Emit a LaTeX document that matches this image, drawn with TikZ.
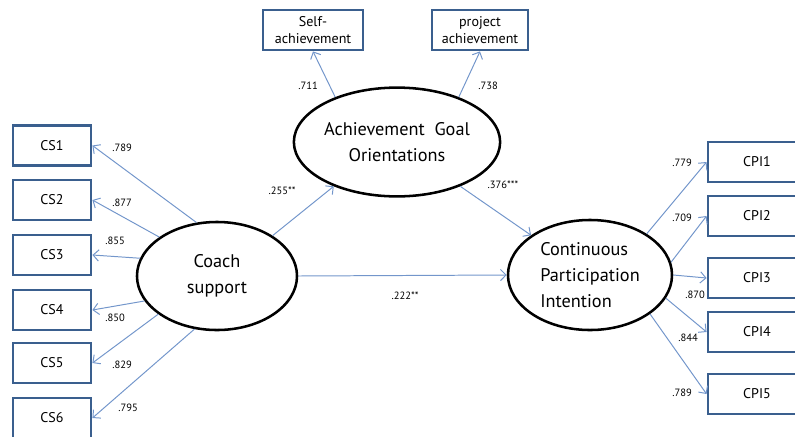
\documentclass[tikz,border=0pt]{standalone}
\usepackage{fontspec}
\setmainfont{PT Sans}
\usetikzlibrary{shapes.geometric,arrows.meta}
\definecolor{boxblue}{HTML}{3A5F8E}
\definecolor{arrowblue}{HTML}{7396CB}
\begin{document}
\begin{tikzpicture}[x=0.025cm,y=-0.025cm]
	\tikzstyle{box}=[draw=boxblue, line width=2pt, minimum width=1.95cm, minimum height=1cm, inner sep=1pt, font=\fontsize{10}{12.5}\selectfont, align=center]
	\tikzstyle{wide}=[box, minimum width=2.45cm]
	\tikzstyle{latent}=[draw=black, ellipse, line width=1.8pt, inner sep=0pt, font=\fontsize{13}{18.4}\selectfont, align=center]
	\tikzstyle{load}=[arrowblue, line width=0.7pt, -{Straight Barb[length=4pt,width=8pt]}]
	\tikzstyle{coef}=[font=\fontsize{7.5}{9}\selectfont, inner sep=0pt]

	\clip (0,0) rectangle (795,436);

	% indicators of coach support
	\node[box] (CS1) at (52, 145.5)	{CS1};
	\node[box] (CS2) at (52, 200)	{CS2};
	\node[box] (CS3) at (52, 255)	{CS3};
	\node[box] (CS4) at (52, 310)	{CS4};
	\node[box] (CS5) at (52, 363)	{CS5};
	\node[box] (CS6) at (52, 418)	{CS6};

	% indicators of goal orientations
	\node[box, minimum width=2.5cm] (SA) at (313, 30)	{Self-\\achievement};
	\node[box, minimum width=2.4cm] (PA) at (480, 30)	{project\\achievement};

	% indicators of participation intention
	\node[wide] (CPI1) at (757, 162)	{CPI1};
	\node[wide] (CPI2) at (757, 216)	{CPI2};
	\node[wide] (CPI3) at (757, 278)	{CPI3};
	\node[wide] (CPI4) at (757, 332)	{CPI4};
	\node[wide] (CPI5) at (757, 394)	{CPI5};

	% latent variables
	\node[latent, minimum width=4cm, minimum height=2.7cm] (CS) at (217, 276)	{Coach\\support};
	\node[latent, minimum width=4cm, minimum height=2.72cm] (AGO) at (397, 142)	{Achievement\ \ Goal\\Orientations};
	\node[latent, minimum width=4.1cm, minimum height=2.75cm, align=left] (CPI) at (590, 275)	{Continuous\\Participation\\Intention};

	\draw[load] (CS.111) -- (CS1.east);
	\draw[load] (CS.146) -- (CS2.east);
	\draw[load] (CS.167) -- (CS3.east);
	\draw[load] (CS.199) -- (CS4.east);
	\draw[load] (CS.213) -- (CS5.east);
	\draw[load] (CS.247) -- (CS6.east);

	\draw[load] (AGO.144) -- (SA.south);
	\draw[load] (AGO.36) -- (PA.south);

	\draw[load] (CPI.36) -- (CPI1.west);
	\draw[load] (CPI.9) -- (CPI2.west);
	\draw[load] (CPI.east) -- (CPI3.west);
	\draw[load] (CPI.343) -- (CPI4.west);
	\draw[load] (CPI.327) -- (CPI5.west);

	\draw[load] (CS.36) -- (AGO.215);
	\draw[load] (AGO.325) -- (CPI.146);
	\draw[load] (CS.east) -- (CPI.west);

	\node[coef] (c1) at (122, 148)	{.789};
	\node[coef] (c2) at (122, 203)	{.877};
	\node[coef] (c3) at (115, 241)	{.855};
	\node[coef] (c4) at (115, 318)	{.850};
	\node[coef] (c5) at (122, 365)	{.829};
	\node[coef] (c6) at (128, 408)	{.795};

	\node[coef] (c7) at (308, 86)	{.711};
	\node[coef] (c8) at (488, 86)	{.738};

	\node[coef] (c9) at (682, 163)	{.779};
	\node[coef] (c10) at (682, 218)	{.709};
	\node[coef] (c11) at (695, 295)	{.870};
	\node[coef] (c12) at (688, 338)	{.844};
	\node[coef] (c13) at (682, 393)	{.789};

	\node[coef] (p1) at (282, 191)	{.255**};
	\node[coef] (p2) at (503, 185)	{.376***};
	\node[coef] (p3) at (405, 296)	{.222**};
\end{tikzpicture}
\end{document}
